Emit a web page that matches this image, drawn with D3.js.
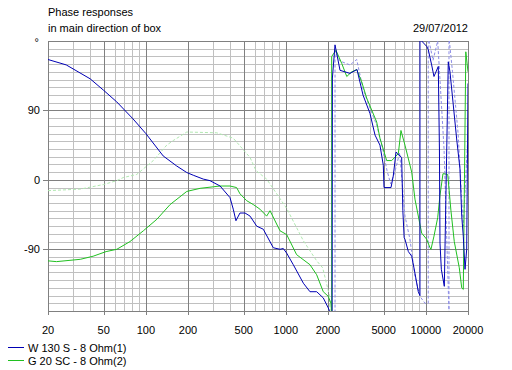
<!DOCTYPE html>
<html>
<head>
<meta charset="utf-8">
<script src="https://cdn.jsdelivr.net/npm/d3@7"></script>
<style>
  body { margin: 0; background: #fff; }
  text { font-family: 'Liberation Sans', Arial, sans-serif; font-size: 11px; fill: #000; }
</style>
</head>
<body>
<script>
// Tick labels
var xTicks = [20, 50, 100, 200, 500, 1000, 2000, 5000, 10000, 20000];
var yTicks = [90, 0, -90];

// W 130 S - 8 Ohm(1), solid blue
var w130Freq = [20, 27, 40, 50, 62, 81, 100, 133, 166, 196, 218, 257, 287, 339, 399, 421, 440, 470, 511, 555, 619, 690, 813, 908, 959, 1014, 1130, 1334, 1487, 1660, 1850, 2009, 2067, 2140,
  2150, 2245, 2437, 2871, 3222, 3557, 3990, 4335, 4700, 4967, 5024, 5637, 5850, 6124, 6296, 6717, 6850, 7000, 7094, 7500, 7925, 8360, 8830, 9075,
  9075, 9333, 10140, 10400, 11000, 11430, 12270, 12500, 12620, 12900, 13550, 14460, 14870, 15700, 16600, 17530, 18040, 18510, 19040, 19580, 19800, 20000];
var w130Phase = [156, 149, 131, 116, 101, 79, 60, 31, 18, 9.5, 6, 1, -1, -8, -23, -38, -53, -43, -43, -47, -60, -64, -88, -90, -89, -95, -110, -134, -145, -145, -153, -166, -172, -180,
  132, 175, 142, 138, 143, 110, 86, 58, 45, 19, -10, -10, 5, 36, 34, 29, -40, -75, -77, -93, -99, -121, -145, -150,
  185, 180, 173, 169, 149, 134, 147, 40, -82, -116, -138, 153, 140, 97, 53, 14, -47, -73, -116, -90, 20, 125];

// G 20 SC - 8 Ohm(2), solid green
var g20Freq = [20, 23, 34, 42, 52, 62, 77, 96, 120, 149, 196, 244, 303, 338, 399, 445, 470, 525, 585, 653, 729, 771, 908, 1014, 1194, 1487, 1660, 1850, 2009, 2100, 2125,
  2125, 2280, 2506, 2723, 2955, 3206, 3482, 3778, 4455, 4700, 5250, 5700, 6360, 6640, 7094, 7925, 8360, 9333, 10140, 10700, 10880, 11430, 12150, 12620, 13250, 14330, 15110, 15960, 17330, 18040, 18510, 19290, 20000];
var g20Phase = [-105, -106, -103, -99, -93, -90, -80, -66, -51, -32, -15, -11, -9, -8, -8, -10, -18, -27, -32, -38, -47, -40, -66, -71, -97, -110, -123, -145, -151, -160, -175,
  160, 168, 151, 134, 140, 143, 127, 106, 75, 54, 25, 25, 34, 64, 45, 10, -25, -69, -77, -88, -90, -73, -49, -20, 8, 7, -40, -80, -114, -140, -142, 166, 140];

// dashed curve, low band (light green)
var dashLowFreq = [20, 34, 50, 62, 69, 86, 113, 141, 157, 196, 321, 421, 555, 612, 729, 1014, 1334, 1660, 1833, 2043, 2067, 2100];
var dashLowPhase = [-14, -12, -6, -1, 3, 7, 25, 45, 51, 62, 61, 54, 29, 12, 1, -37, -79, -105, -114, -149, -170, -180];

// dashed curve, high band (lavender)
var dashHighFreq = [2245, 2245, 2437, 2871, 3206, 3557, 3990, 4477, 4940, 5280, 5600, 6000, 6500, 7094, 7700, 8360, 9075, 9860, 10400, 10400, 11250, 12150, 13490, 14630, 14630, 15500, 17000, 18500, 20000];
var dashHighPhase = [-185, 167, 154, 149, 156, 118, 93, 70, 38, 12, -5, 10, 35, -47, -77, -125, -151, -160, -160, 185, 155, 180, 40, -172, 185, 140, 60, -60, 60];

var width = 512, height = 370;
var margin = {left: 48, right: 44, top: 41, bottom: 59};

var svg = d3.select("body").append("svg")
            .attr("width", width)
            .attr("height", height);

svg.append("rect")
   .attr("width", width)
   .attr("height", height)
   .style("fill", "white");

var x = d3.scaleLog()
          .domain([20, 20000])
          .range([margin.left, width - margin.right]);
var y = d3.scaleLinear()
          .domain([-170, 180])
          .range([height - margin.bottom, margin.top]);

// Grid lines
var minorX = [];
[10, 100, 1000, 10000].forEach(function (dec) {
    for (var k = 1; k < 10; k++) {
        var f = dec * k;
        if (f >= 20 && f <= 20000) minorX.push(f);
    }
});
var minorY = d3.range(-170, 181, 10);

var grid = svg.append("g");
grid.selectAll(".vminor").data(minorX).enter().append("line")
    .attr("x1", d => Math.round(x(d)) + 0.5).attr("x2", d => Math.round(x(d)) + 0.5)
    .attr("y1", y(180)).attr("y2", y(-170))
    .style("stroke", "#c0c0c0");
grid.selectAll(".hminor").data(minorY).enter().append("line")
    .attr("y1", d => Math.round(y(d)) + 0.5).attr("y2", d => Math.round(y(d)) + 0.5)
    .attr("x1", x(20)).attr("x2", x(20000))
    .style("stroke", "#c0c0c0");
grid.selectAll(".vmajor").data(xTicks).enter().append("line")
    .attr("x1", d => Math.round(x(d)) + 0.5).attr("x2", d => Math.round(x(d)) + 0.5)
    .attr("y1", y(180)).attr("y2", y(-170) + 4)
    .style("stroke", "#808080");
grid.selectAll(".hmajor").data(yTicks).enter().append("line")
    .attr("y1", d => Math.round(y(d)) + 0.5).attr("y2", d => Math.round(y(d)) + 0.5)
    .attr("x1", x(20) - 5).attr("x2", x(20000))
    .style("stroke", "#808080");

svg.append("rect")
   .attr("x", Math.round(x(20)) + 0.5)
   .attr("y", Math.round(y(180)) + 0.5)
   .attr("width", Math.round(x(20000)) - Math.round(x(20)))
   .attr("height", Math.round(y(-170)) - Math.round(y(180)))
   .style("fill", "none")
   .style("stroke", "#808080");

// Curves
svg.append("clipPath").attr("id", "plot")
   .append("rect")
   .attr("x", x(20)).attr("y", y(180))
   .attr("width", x(20000) - x(20)).attr("height", y(-170) - y(180));

var line = d3.line().x(d => x(d[0])).y(d => y(d[1]));
var curves = svg.append("g").attr("clip-path", "url(#plot)");

function drawCurve (freqs, phases, color, dash) {
    curves.append("path")
          .datum(d3.zip(freqs, phases))
          .attr("d", line)
          .style("fill", "none")
          .style("stroke", color)
          .style("stroke-width", 1)
          .style("stroke-dasharray", dash);
}

drawCurve(dashLowFreq, dashLowPhase, "#b0e8b0", "3,2");
drawCurve(dashHighFreq, dashHighPhase, "#8c8ce6", "3,2");
drawCurve(g20Freq, g20Phase, "#20c020", null);
drawCurve(w130Freq, w130Phase, "#0000b4", null);

// Axis labels
svg.selectAll(".xlab").data(xTicks).enter().append("text")
   .attr("x", d => x(d))
   .attr("y", 334)
   .style("text-anchor", "middle")
   .text(d => d);
svg.selectAll(".ylab").data(yTicks).enter().append("text")
   .attr("x", 40)
   .attr("y", d => y(d) + 4)
   .style("text-anchor", "end")
   .text(d => d);
svg.append("text")
   .attr("x", 39)
   .attr("y", y(180) + 5)
   .style("text-anchor", "end")
   .text("°");

// Titles
svg.append("text").attr("x", 48).attr("y", 16).text("Phase responses");
svg.append("text").attr("x", 48).attr("y", 32).text("in main direction of box");
svg.append("text").attr("x", 468).attr("y", 32).style("text-anchor", "end").text("29/07/2012");

// Legend
var legend = [["W 130 S - 8 Ohm(1)", "#0000b4"], ["G 20 SC - 8 Ohm(2)", "#20c020"]];
legend.forEach(function (d, i) {
    svg.append("line")
       .attr("x1", 8).attr("x2", 24)
       .attr("y1", 347.5 + i * 13).attr("y2", 347.5 + i * 13)
       .style("stroke", d[1]);
    svg.append("text")
       .attr("x", 28).attr("y", 352 + i * 13)
       .text(d[0]);
});
</script>
</body>
</html>
